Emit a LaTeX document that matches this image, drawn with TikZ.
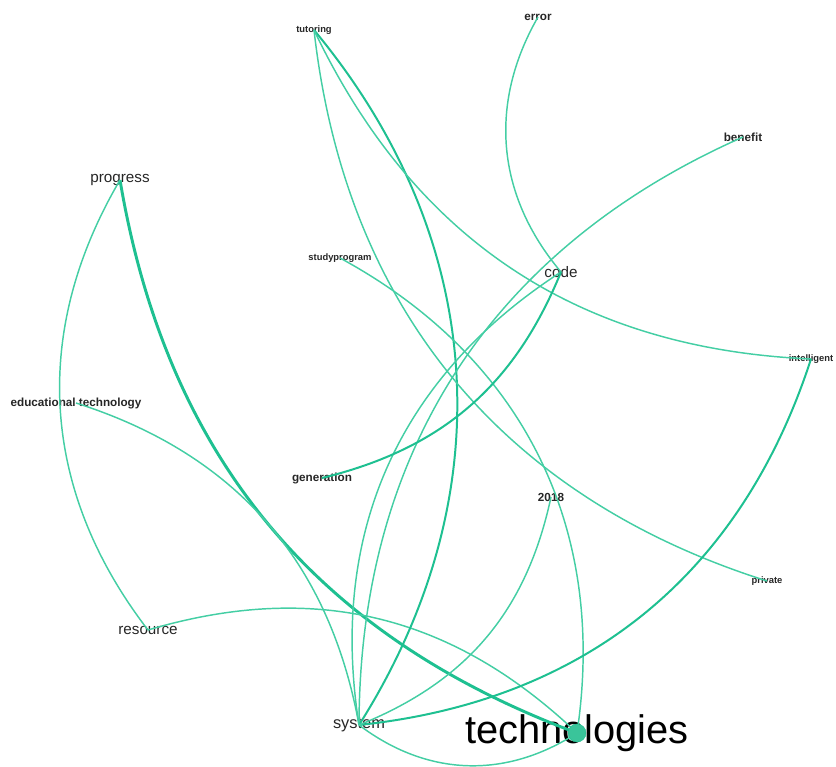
\documentclass[tikz,border=0pt]{standalone}
\usepackage{fontspec}
\setmainfont{Liberation Sans}
\usepackage{xcolor}
\usepackage{tikz}
\definecolor{edgegreen}{RGB}{68,206,164}
\definecolor{edgedark}{RGB}{30,192,145}
\definecolor{dotgreen}{RGB}{58,196,154}

\begin{document}
\begin{tikzpicture}[x=0.03cm, y=-0.03cm,
    term/.style={inner sep=0pt, text=black!85},
    termtiny/.style={term, font=\fontsize{8}{8}\selectfont\bfseries},
    termsmall/.style={term, font=\fontsize{10}{10}\selectfont\bfseries},
    termmid/.style={term, font=\fontsize{13}{13}\selectfont},
    termbig/.style={term, text=black, font=\fontsize{34}{34}\selectfont},
    link/.style={edgegreen, line width=1.25pt},
    midlink/.style={edgedark, line width=1.7pt},
    heavylink/.style={edgedark, line width=2.5pt}]
    \useasboundingbox (0,0) rectangle (836,767);

    % Terms
    \node[termtiny] (tutoring) at (314,30) {tutoring};
    \node[termsmall] (error) at (538,17) {error};
    \node[termsmall] (benefit) at (743,137) {benefit};
    \node[termmid] (progress) at (120,180) {progress};
    \node[termtiny] (studyprogram) at (340,258) {studyprogram};
    \node[termmid] (code) at (561,272) {code};
    \node[termtiny] (intelligent) at (811,359) {intelligent};
    \node[termsmall] (edtech) at (76,403) {educational technology};
    \node[termsmall] (generation) at (322,478) {generation};
    \node[termsmall] (year) at (551,497) {2018};
    \node[termtiny] (private) at (767,581) {private};
    \node[termmid] (resource) at (148,630) {resource};
    \node[termmid, font=\fontsize{14}{14}\selectfont] (system) at (359,725) {system};
    \node[termbig] (technologies) at (577,733) {technologies};

    % Links
    \draw[heavylink] (progress.center) to[bend right=30] (technologies.center);
    \draw[link] (progress.center) to[bend right=34] (resource.center);
    \draw[link] (edtech.center) to[bend left=31] (system.center);
    \draw[link] (resource.center) to[bend left=30] (technologies.center);
    \draw[midlink] (tutoring.center) to[bend left=36] (system.center);
    \draw[link] (tutoring.center) to[bend right=31] (intelligent.center);
    \draw[link] (tutoring.center) to[bend right=33] (private.center);
    \draw[link] (studyprogram.center) to[bend left=35] (technologies.center);
    \draw[link] (error.center) to[bend right=35] (code.center);
    \draw[link] (benefit.center) to[bend right=33] (system.center);
    \draw[link] (code.center) to[bend right=33] (system.center);
    \draw[midlink] (generation.center) to[bend right=27] (code.center);
    \draw[midlink] (intelligent.center) to[bend left=33] (system.center);
    \draw[link] (year.center) to[bend left=28] (system.center);
    \draw[link] (system.center) to[bend right=35] (technologies.center);

    % Hub
    \filldraw[fill=dotgreen, draw=edgedark] (technologies.center) circle (0.27cm);
\end{tikzpicture}
\end{document}
